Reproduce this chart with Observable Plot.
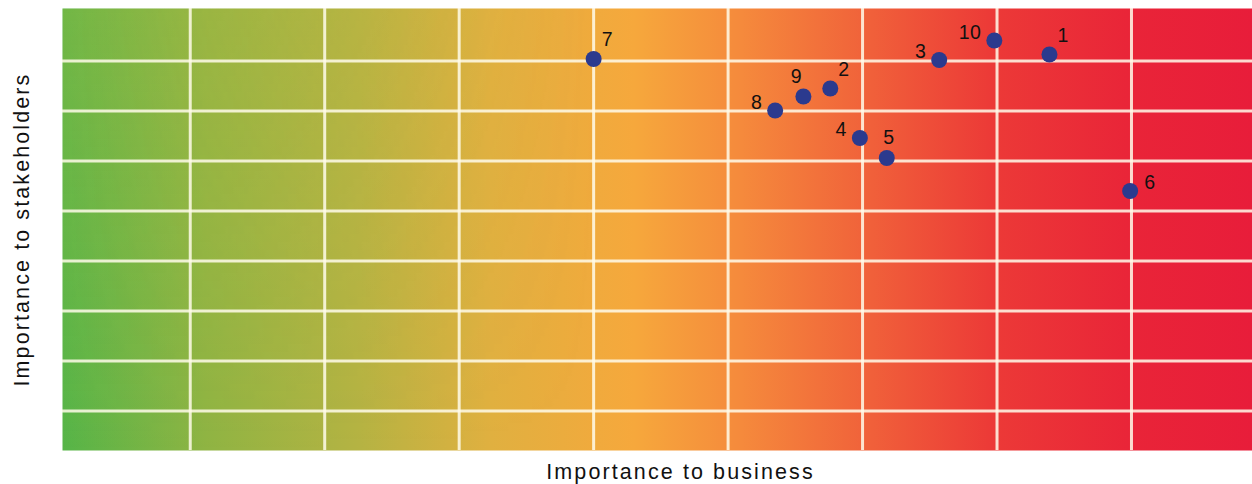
<!DOCTYPE html>
<html>
<head>
<meta charset="utf-8">
<script src="https://cdn.jsdelivr.net/npm/d3@7"></script>
<script src="https://cdn.jsdelivr.net/npm/@observablehq/plot@0.6"></script>
<style>
  html, body { margin: 0; padding: 0; background: #fff; }
  #chart { width: 1252px; height: 484px; }
</style>
</head>
<body>
<div id="chart"></div>
<script>
// Issue numbers and their scores
const issues = ["1", "2", "3", "4", "5", "6", "7", "8", "9", "10"];
const business = [7.39, 5.76, 6.57, 5.98, 6.18, 7.99, 4.00, 5.35, 5.56, 6.98];
const stakeholders = [8.13, 7.45, 8.02, 6.46, 6.06, 5.40, 8.04, 7.01, 7.29, 8.41];

// Grid positions
const xGrid = [1, 2, 3, 4, 5, 6, 7, 8];
const yGrid = [1, 2, 3, 4, 5, 6, 7, 8];

const xTitle = "Importance to business";
const yTitle = "Importance to stakeholders";

const data = issues.map((id, i) => ({id, x: business[i], y: stakeholders[i]}));

// label placement groups
const neIds = ["7", "2", "1"];
const nwIds = ["9"];
const nIds = ["5"];
const wIds = ["8", "4", "3", "10"];
const eIds = ["6"];
const pick = ids => data.filter(d => ids.includes(d.id));

const font = "Liberation Sans, Arial, Helvetica, sans-serif";
const lab = {x: "x", y: "y", text: "id", fontSize: 19.5, fill: "#111"};

const chart = Plot.plot({
  width: 1252,
  height: 484,
  marginLeft: 62,
  marginRight: 0,
  marginTop: 8,
  marginBottom: 34,
  style: {fontFamily: font, background: "#fff"},
  x: {domain: [0.05, 8.9], axis: null},
  y: {domain: [0.21, 9.05], axis: null},
  marks: [
    Plot.frame({fill: "url(#bggrad)", stroke: "none"}),
    Plot.frame({fill: "url(#bgshade)", stroke: "none"}),
    Plot.ruleX(xGrid, {stroke: "#fffbea", strokeOpacity: 0.85, strokeWidth: 3}),
    Plot.ruleY(yGrid, {stroke: "#fffbea", strokeOpacity: 0.85, strokeWidth: 3}),
    Plot.dot(data, {x: "x", y: "y", r: 8, fill: "#2b3a8e", stroke: "none"}),
    Plot.text(pick(neIds), {...lab, textAnchor: "start", dx: 8, dy: -19}),
    Plot.text(pick(nwIds), {...lab, textAnchor: "middle", dx: -7, dy: -20}),
    Plot.text(pick(nIds), {...lab, textAnchor: "middle", dx: 2, dy: -20}),
    Plot.text(pick(wIds), {...lab, textAnchor: "end", dx: -13, dy: -8}),
    Plot.text(pick(eIds), {...lab, textAnchor: "start", dx: 14, dy: -8}),
    Plot.text([yTitle], {frameAnchor: "left", text: d => d, rotate: -90, dx: -40, fontSize: 21.5, fill: "#111", textAnchor: "middle"}),
    Plot.text([xTitle], {frameAnchor: "bottom", text: d => d, dx: 23, dy: 28, fontSize: 21.5, fill: "#111", textAnchor: "middle"})
  ]
});

const svg = d3.select(chart);
// widen the typeface slightly like the reference
svg.selectAll("text").each(function() {
  const t = this.textContent;
  if (t === xTitle || t === yTitle) d3.select(this).style("letter-spacing", "2.1px");
  else if (issues.includes(t)) d3.select(this).style("letter-spacing", "0.4px");
});

const defs = svg.insert("defs", ":first-child");
const g = defs.append("linearGradient").attr("id", "bggrad")
  .attr("x1", "0").attr("y1", "0").attr("x2", "1").attr("y2", "0");
[
  [0, "#56b548"], [0.12, "#8fb443"], [0.25, "#b5b343"], [0.36, "#e0b040"],
  [0.48, "#f6a83c"], [0.57, "#f58a3c"], [0.68, "#f0603a"], [0.78, "#ec3a37"],
  [0.9, "#e92438"], [1, "#e81d3a"]
].forEach(([o, c]) => g.append("stop").attr("offset", o).attr("stop-color", c));
const s = defs.append("linearGradient").attr("id", "bgshade")
  .attr("x1", "0").attr("y1", "0").attr("x2", "0").attr("y2", "1");
s.append("stop").attr("offset", 0).attr("stop-color", "#d6c040").attr("stop-opacity", 0.22);
s.append("stop").attr("offset", 1).attr("stop-color", "#d6c040").attr("stop-opacity", 0);
const mg = defs.append("linearGradient").attr("id", "maskgrad")
  .attr("x1", "0").attr("y1", "0").attr("x2", "1").attr("y2", "0");
mg.append("stop").attr("offset", 0).attr("stop-color", "#fff");
mg.append("stop").attr("offset", 0.45).attr("stop-color", "#000");
const mask = defs.append("mask").attr("id", "shademask")
  .attr("maskUnits", "objectBoundingBox").attr("maskContentUnits", "objectBoundingBox");
mask.append("rect").attr("x", 0).attr("y", 0).attr("width", 1).attr("height", 1).attr("fill", "url(#maskgrad)");
svg.selectAll("rect").filter(function() {
  return (this.getAttribute("fill") || "").includes("bgshade") ||
         (this.parentNode.getAttribute("fill") || "").includes("bgshade");
}).attr("mask", "url(#shademask)");

document.getElementById("chart").append(chart);
</script>
</body>
</html>
